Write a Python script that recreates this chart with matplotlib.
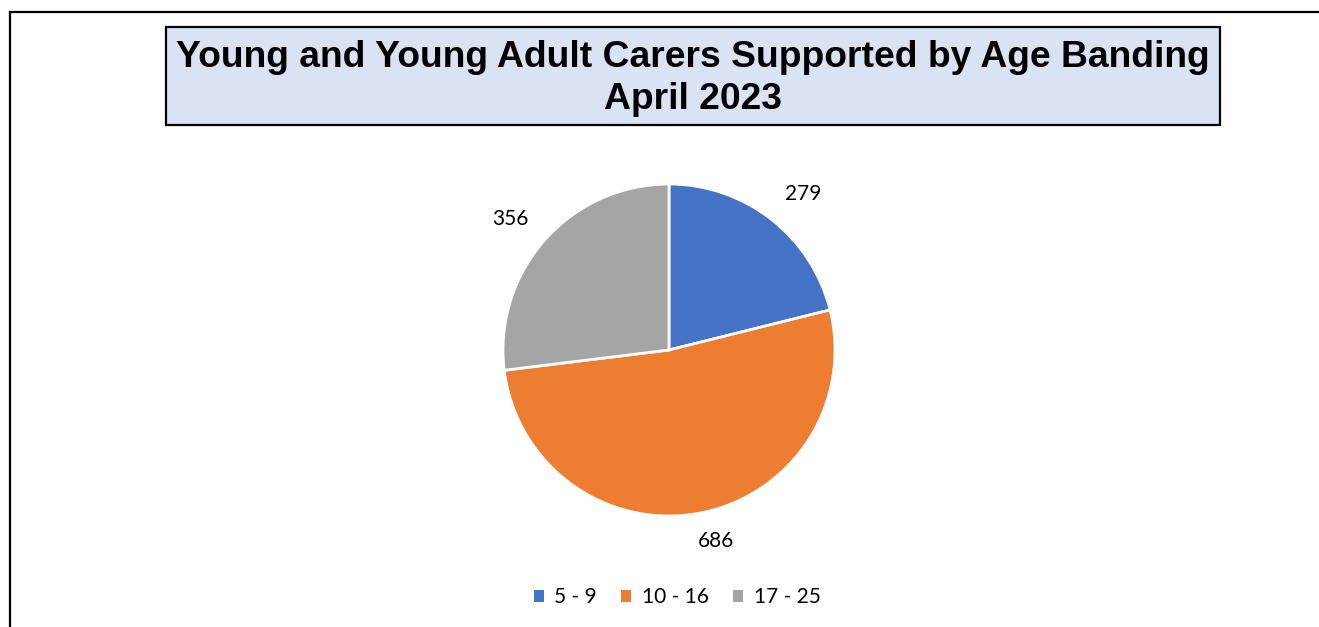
import matplotlib.pyplot as plt
from matplotlib.patches import Rectangle, Patch
from matplotlib.lines import Line2D

# datos
age_bands = ["5 - 9", "10 - 16", "17 - 25"]
carers = [279, 686, 356]
colours = ["#4472C4", "#ED7D31", "#A5A5A5"]

title = "Young and Young Adult Carers Supported by Age Banding\nApril 2023"

W, H = 1319, 627
DPI = 100


def fx(px):
    return px / W


def fy(py):
    # pixel desde arriba -> fraccion de figura
    return 1 - py / H


fig = plt.figure(figsize=(W / DPI, H / DPI), dpi=DPI)

# marco exterior (solo izquierda y arriba visibles)
fig.add_artist(Line2D([fx(10), fx(10)], [0, fy(12)], color="black", lw=1.6,
                      transform=fig.transFigure))
fig.add_artist(Line2D([fx(10), 1], [fy(12), fy(12)], color="black", lw=1.6,
                      transform=fig.transFigure))

# caja del titulo
fig.add_artist(Rectangle((fx(166), fy(125)), fx(1220) - fx(166), fy(27) - fy(125),
                         facecolor="#DAE3F3", edgecolor="black", lw=1.6,
                         transform=fig.transFigure))
fig.text(fx(693), fy(78.5), title, ha="center", va="center", fontsize=26.8,
         fontweight="bold", family="Liberation Sans", linespacing=1.25)

# tarta
cx, cy, r = 669, 350, 166
ax = fig.add_axes([fx(cx - r), fy(cy + r), 2 * r / W, 2 * r / H])
total = sum(carers)
wedges, _, autotexts = ax.pie(
    carers, colors=colours, startangle=90, counterclock=False,
    wedgeprops=dict(edgecolor="white", linewidth=2),
    autopct=lambda p: f"{round(p * total / 100)}", pctdistance=1.22,
    textprops=dict(fontsize=15, family="Lato", color="black"),
)
# ajuste fino de las etiquetas (como las coloca Excel, en px respecto al centro)
label_px = [(134, 156), (47, -191), (-159, 131)]
for t, (dx, dy) in zip(autotexts, label_px):
    t.set_position((dx / r, dy / r))
ax.set_xlim(-1, 1)
ax.set_ylim(-1, 1)
ax.set_aspect("equal")
ax.axis("off")

handles = [Patch(facecolor=c, edgecolor="none") for c in colours]
fig.legend(handles, age_bands, loc="center", bbox_to_anchor=(fx(677), fy(597)),
           ncol=3, frameon=False, prop=dict(family="Lato", size=15),
           handlelength=0.5, handleheight=0.5, handletextpad=0.5, columnspacing=1.15)

fig.savefig("out.png", dpi=DPI)
